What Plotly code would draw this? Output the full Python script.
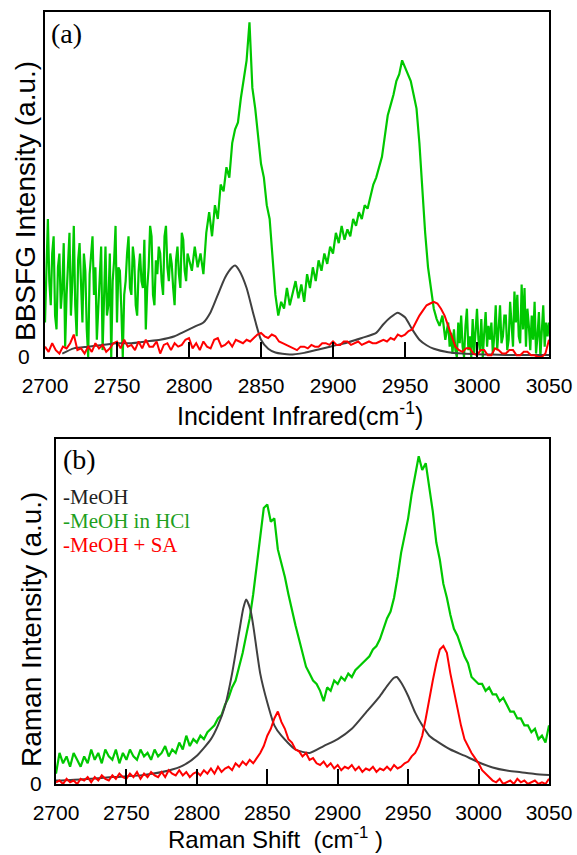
import plotly.graph_objects as go

W, H = 577, 855

# ---------------- Panel (a): BBSFG spectra ----------------
# green: MeOH in HCl, three sampled segments (start, step, values)
sfg_hcl_a_start, sfg_hcl_a_step = 2700, 1
sfg_hcl_a = [
    10, 25, 40, 22, 15, 30, 35, 12, 8, 26,
    30, 14, 20, 33, 3, 18, 28, 36, 12, 22,
    38, 15, 6, 28, 33, 20, 10, 30, 25, 8,
    0, 24, 30, 35, 18, 26, 5, 14, 27, 32,
    2, 20, 32, 12, 15, 30, 0, 22, 28, 38,
    10, 26, 25, 14, 0, 18, 22, 30, 35, 20,
    18, 32, 28, 15, 12, 25, 30, 22, 20, 34,
    8, 20, 26, 38, 35, 18, 15, 28, 24, 32,
    30, 22, 18, 35, 38, 26, 22, 30, 27, 20,
    15, 28, 32, 24, 20, 36, 34, 25, 22, 30,
    28,
]
sfg_hcl_b_start, sfg_hcl_b_step = 2802, 2
sfg_hcl_b = [
    25, 32, 26, 30, 24, 36, 42, 35, 44,
    40, 50, 48, 55, 52, 62, 66, 68, 75, 80,
    86, 97, 78, 72, 64, 56, 52, 44, 40, 30,
    18, 12, 16, 14, 20, 15, 19, 22, 17, 21,
    16, 24, 20, 26, 22, 28, 25, 30, 27, 32,
    30, 36, 33, 38, 34, 37, 35, 40, 38, 42,
    40, 44, 43, 47, 50, 52, 55, 58, 64, 70,
    73, 76, 80, 82, 86, 84, 82, 80, 76, 72,
    62, 48, 36, 26, 20, 14, 11, 9, 12, 5,
]
sfg_hcl_c_start, sfg_hcl_c_step = 2980, 1
sfg_hcl_c = [
    10, 3, 7, 1, 8, 2, 0, 10, 4, 12,
    3, 0, 9, 14, 2, 6, 0, 11, 1, 8,
    14, 5, 2, 11, 0, 7, 13, 3, 9, 5,
    10, 1, 6, 15, 2, 8, 15, 4, 6, 12,
    12, 2, 5, 16, 8, 3, 19, 10, 18, 6,
    4, 21, 8, 20, 3, 14, 9, 2, 12, 5,
    16, 1, 6, 13, 0, 9, 15, 3, 10, 6,
    10,
]

# gray: MeOH (smooth)
sfg_meoh_x = [2712, 2720, 2730, 2740, 2750, 2760, 2770, 2780, 2790, 2795,
              2800, 2805, 2810, 2815, 2820, 2825, 2830, 2832, 2835, 2840,
              2845, 2850, 2855, 2860, 2870, 2880, 2890, 2900, 2910, 2920,
              2930, 2935, 2940, 2945, 2950, 2955, 2960, 2965, 2970, 2980,
              2990, 3000, 3010, 3020, 3030, 3040, 3050]
sfg_meoh_y = [1.0, 2.5, 3, 3.5, 4, 4, 4.5, 5, 6, 7,
              8, 9, 10, 13, 18, 23, 26, 26.5, 25, 20,
              12, 5, 2.4, 1.3, 0.7, 1.2, 2.2, 3.2, 4.2, 5.5,
              7, 9.5, 11.5, 12.8, 11.5, 8, 5, 3.4, 2.4, 1.4,
              1, 0.8, 0.7, 0.6, 0.6, 0.6, 0.6]

# red: MeOH + SA, sampled every 2.5 cm-1
sfg_sa_start, sfg_sa_step = 2700, 2.5
sfg_sa = [
    3, 1.5, 4, 2, 1, 3, 2.5, 4, 6.5, 2,
    2.5, 1, 3, 1.5, 4, 2.5, 3.5, 1.5, 2.5, 4,
    4.5, 2.5, 5, 3, 3.5, 2, 4.5, 2.5, 5, 3,
    3, 4.5, 1, 3.5, 4, 2, 4, 3, 3.5, 5,
    5.5, 2.5, 4, 2, 4.5, 3, 2.5, 5, 5.5, 3,
    3.5, 4.5, 3, 5, 4.5, 4, 5, 4.5, 5.5, 6.5,
    7, 6, 5.5, 6.5, 6, 4.5, 4, 3.5, 3, 2.5,
    2, 3, 3, 2.5, 3.5, 3, 3, 4, 4, 3.5,
    4.5, 3.5, 3.5, 4.5, 4.5, 3.5, 4, 4.5, 3.5, 4,
    4.5, 4, 4, 4.5, 5, 4.5, 5.5, 5, 6.5, 6,
    6.5, 7.5, 8, 10, 12, 13.5, 15, 15.5, 16, 15.5,
    14, 12, 9, 6, 3, 2, 1.5, 2.5, 2.5, 1,
    0.5, 2, 2, 0.5, 0.5, 2.5, 2, 1, 1, 2,
    2, 0.5, 0.5, 1.5, 1.5, 0.5, 0.5, 0, 0, 1,
    5,
]

# ---------------- Panel (b): Raman spectra ----------------
ram_hcl_start, ram_hcl_step = 2700, 2.5
ram_hcl = [
    3, 9, 6, 8, 5, 9, 7, 5, 8, 6,
    10, 7, 9, 6, 10, 8, 7, 10, 6, 9,
    7, 10, 8, 7, 10, 8, 9, 7, 10, 8,
    9, 11, 8, 10, 9, 12, 10, 14, 11, 13,
    12, 14, 13, 15, 16, 17, 19, 20, 23, 25,
    28, 30, 34, 38, 43, 48, 55, 63, 72, 80,
    81, 76, 77, 68, 64, 60, 55, 50, 46, 42,
    38, 34, 32, 30, 29, 27, 24, 28, 27, 30,
    29, 31, 30, 32, 31, 33, 34, 35, 36, 37,
    39, 40, 42, 45, 48, 50, 54, 60, 67, 72,
    77, 84, 89, 95, 91, 93, 86, 79, 70, 65,
    58, 54, 49, 45, 43, 40, 37, 35, 31, 30,
    29, 29, 27, 28, 26, 26, 24, 25, 23, 21,
    21, 19, 19, 17, 17, 15, 16, 13, 14, 12,
    17,
]

ram_meoh_x = [2700, 2720, 2740, 2760, 2780, 2790, 2800, 2810, 2815, 2820,
              2825, 2830, 2833, 2835, 2838, 2840, 2845, 2850, 2855, 2860,
              2870, 2880, 2890, 2900, 2910, 2920, 2930, 2935, 2940, 2942,
              2945, 2950, 2955, 2960, 2965, 2970, 2980, 2990, 3000, 3010,
              3020, 3030, 3040, 3050]
ram_meoh_y = [1, 1.4, 2, 2.5, 3.9, 5.3, 8.2, 13, 17, 22.6,
              32, 44, 51, 53.5, 50.6, 46, 32, 23.6, 17, 14,
              10, 9, 11, 13, 16, 20.7, 25.5, 28.4, 30.8, 31,
              29.4, 25.5, 20.7, 17, 14, 12.5, 10, 8.2, 6.3, 4.8,
              3.9, 3.4, 2.9, 2.6]

ram_sa_start, ram_sa_step = 2700, 2.5
ram_sa = [
    0.5, 1, 0, 1.5, 0.5, 1, 0, 1.5, 1, 2,
    0.5, 2, 1, 2.5, 1.5, 1, 2.5, 1.5, 3, 2,
    1.5, 3, 2, 3.5, 1.5, 3, 2, 3.5, 2.5, 2,
    3.5, 2, 4, 3, 2.5, 4, 2.5, 3.5, 2, 3,
    3.5, 2.5, 4, 3, 4.5, 3, 5, 3.5, 4.5, 5,
    4, 6, 5, 6.5, 5.5, 7, 6, 7.5, 9, 11,
    14, 16, 19, 21, 18, 16, 13, 12, 10, 9.5,
    8, 9, 7, 7.5, 6, 5.5, 6.5, 5, 6, 4.5,
    5.5, 4, 5, 4.5, 5.5, 4, 5, 3.5, 4.5, 4,
    5, 3.5, 4.5, 4, 5, 4, 5.5, 4.5, 5, 6,
    6.5, 8, 9, 11, 14, 19, 25, 30, 35, 39,
    40, 38, 32, 27, 21.7, 17, 13, 11, 9, 7.5,
    6, 4, 3, 2, 1, 0.5, 1.5, 0, 0.5, 1,
    0, 1.5, 0.5, 1, 0, 0.5, 1, 0, 0.5, 0,
    1.5,
]

x_ticks = [2700, 2750, 2800, 2850, 2900, 2950, 3000, 3050]
x_tick_text = [str(v) for v in x_ticks]

legend_items = ["-MeOH", "-MeOH in HCl", "-MeOH + SA"]

GREEN = "#00c800"
GRAY = "#404040"
RED = "#ff0000"
LEG_GREEN = "#1ea01e"


def grid(start, step, vals):
    return [start + step * i for i in range(len(vals))]


sfg_hcl_x = (grid(sfg_hcl_a_start, sfg_hcl_a_step, sfg_hcl_a)
             + grid(sfg_hcl_b_start, sfg_hcl_b_step, sfg_hcl_b)
             + grid(sfg_hcl_c_start, sfg_hcl_c_step, sfg_hcl_c))
sfg_hcl_y = sfg_hcl_a + sfg_hcl_b + sfg_hcl_c

fig = go.Figure()

# panel (a)
fig.add_trace(go.Scatter(x=sfg_hcl_x, y=sfg_hcl_y,
                         mode="lines", line=dict(color=GREEN, width=2.2),
                         xaxis="x", yaxis="y", showlegend=False))
fig.add_trace(go.Scatter(x=sfg_meoh_x, y=sfg_meoh_y, mode="lines",
                         line=dict(color=GRAY, width=2, shape="spline", smoothing=0.6),
                         xaxis="x", yaxis="y", showlegend=False))
fig.add_trace(go.Scatter(x=grid(sfg_sa_start, sfg_sa_step, sfg_sa), y=sfg_sa,
                         mode="lines", line=dict(color=RED, width=2),
                         xaxis="x", yaxis="y", showlegend=False))

# panel (b)
fig.add_trace(go.Scatter(x=grid(ram_hcl_start, ram_hcl_step, ram_hcl), y=ram_hcl,
                         mode="lines", line=dict(color=GREEN, width=2.2),
                         xaxis="x2", yaxis="y2", showlegend=False))
fig.add_trace(go.Scatter(x=ram_meoh_x, y=ram_meoh_y, mode="lines",
                         line=dict(color=GRAY, width=2, shape="spline", smoothing=0.6),
                         xaxis="x2", yaxis="y2", showlegend=False))
fig.add_trace(go.Scatter(x=grid(ram_sa_start, ram_sa_step, ram_sa), y=ram_sa,
                         mode="lines", line=dict(color=RED, width=2),
                         xaxis="x2", yaxis="y2", showlegend=False))

SANS = "Liberation Sans, Arial, sans-serif"
SERIF = "Liberation Serif, Times New Roman, serif"


def px(x):
    return x / W


def py(y):
    return 1 - y / H


xcommon = dict(range=[2700, 3050], showgrid=False, zeroline=False, automargin=False,
               showline=True, linecolor="black", linewidth=2, mirror=True,
               ticks="inside", ticklen=15, tickwidth=2, tickcolor="black",
               tickvals=x_ticks, ticktext=x_tick_text, ticklabelstandoff=9,
               tickfont=dict(family=SANS, size=21, color="black"))
ycommon = dict(range=[0, 100], showgrid=False, zeroline=False, automargin=False,
               showline=True, linecolor="black", linewidth=2, mirror=True,
               ticks="", tickvals=[0], ticktext=["0"],
               tickfont=dict(family=SANS, size=21, color="black"))

fig.update_layout(
    width=W, height=H, margin=dict(l=0, r=0, t=0, b=0),
    paper_bgcolor="white", plot_bgcolor="white",
    xaxis=dict(domain=[px(45), px(549)], anchor="y", **xcommon),
    yaxis=dict(domain=[py(357), py(12)], anchor="x", ticklabelstandoff=9, **ycommon),
    xaxis2=dict(domain=[px(56), px(549)], anchor="y2", **xcommon),
    yaxis2=dict(domain=[py(784), py(439)], anchor="x2", ticklabelstandoff=8, **ycommon),
)

ann = []
# axis titles
ann.append(dict(x=px(300), y=py(414), text="Incident Infrared(cm<sup>-1</sup>)",
                font=dict(family=SANS, size=25, color="black")))
ann.append(dict(x=px(275), y=py(838), text="Raman Shift\u00a0 (cm<sup>-1</sup> )",
                font=dict(family=SANS, size=24, color="black")))
ann.append(dict(x=px(25), y=py(201), text="BBSFG Intensity (a.u.)", textangle=-90,
                font=dict(family=SANS, size=28, color="black")))
ann.append(dict(x=px(31), y=py(630), text="Raman Intensity (a.u.)", textangle=-90,
                font=dict(family=SANS, size=28, color="black")))
# panel labels
ann.append(dict(x=px(49), y=py(34), text="(a)", xanchor="left",
                font=dict(family=SERIF, size=28, color="black")))
ann.append(dict(x=px(61), y=py(459), text="(b)", xanchor="left",
                font=dict(family=SERIF, size=28, color="black")))
# legend texts
leg_colors = ["#222222", LEG_GREEN, RED]
leg_y = [497, 521, 545]
for t, c, yy in zip(legend_items, leg_colors, leg_y):
    ann.append(dict(x=px(61), y=py(yy), text=t, xanchor="left",
                    font=dict(family=SERIF, size=21, color=c)))

for a in ann:
    a.setdefault("xanchor", "center")
    a.update(xref="paper", yref="paper", yanchor="middle", showarrow=False)

fig.update_layout(annotations=ann)

fig.write_html("out.html")
